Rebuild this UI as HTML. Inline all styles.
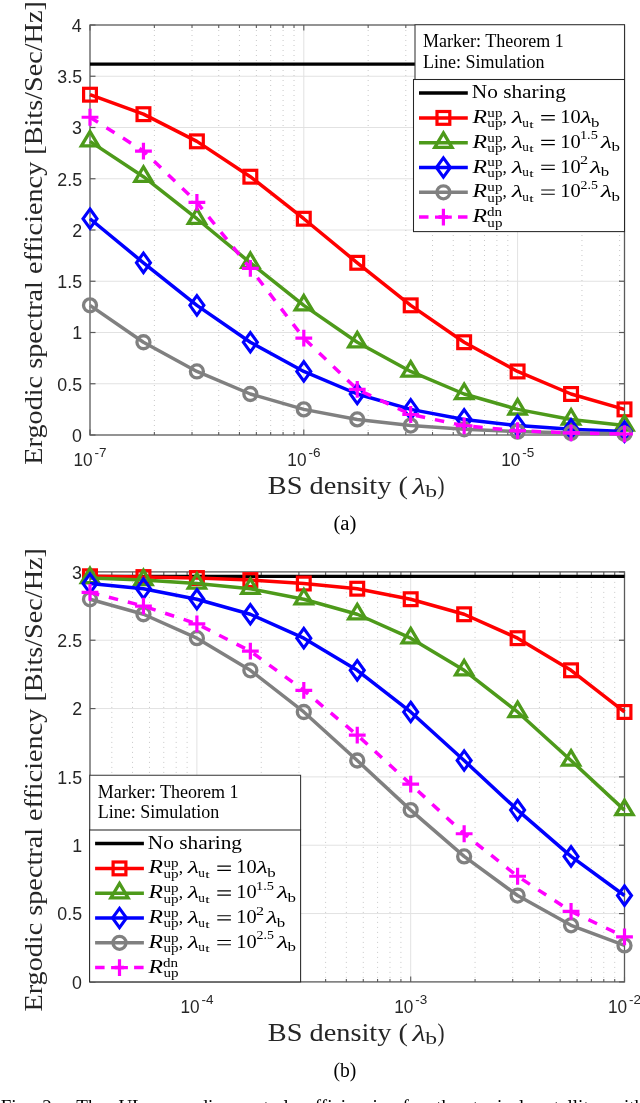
<!DOCTYPE html>
<html><head><meta charset="utf-8"><style>
html,body{margin:0;padding:0;background:#fff;width:640px;height:1103px;overflow:hidden}
svg{display:block;will-change:transform}
</style></head><body>
<svg width="640" height="1103" viewBox="0 0 640 1103">
<rect width="640" height="1103" fill="#fff"/>
<line x1="90.0" x2="624.5" y1="383.75" y2="383.75" stroke="#e2e2e2" stroke-width="1"/>
<line x1="90.0" x2="624.5" y1="332.50" y2="332.50" stroke="#e2e2e2" stroke-width="1"/>
<line x1="90.0" x2="624.5" y1="281.25" y2="281.25" stroke="#e2e2e2" stroke-width="1"/>
<line x1="90.0" x2="624.5" y1="230.00" y2="230.00" stroke="#e2e2e2" stroke-width="1"/>
<line x1="90.0" x2="624.5" y1="178.75" y2="178.75" stroke="#e2e2e2" stroke-width="1"/>
<line x1="90.0" x2="624.5" y1="127.50" y2="127.50" stroke="#e2e2e2" stroke-width="1"/>
<line x1="90.0" x2="624.5" y1="76.25" y2="76.25" stroke="#e2e2e2" stroke-width="1"/>
<line x1="154.36" x2="154.36" y1="25.0" y2="435.0" stroke="#c8c8c8" stroke-width="1" stroke-dasharray="1 4"/>
<line x1="192.01" x2="192.01" y1="25.0" y2="435.0" stroke="#c8c8c8" stroke-width="1" stroke-dasharray="1 4"/>
<line x1="218.72" x2="218.72" y1="25.0" y2="435.0" stroke="#c8c8c8" stroke-width="1" stroke-dasharray="1 4"/>
<line x1="239.44" x2="239.44" y1="25.0" y2="435.0" stroke="#c8c8c8" stroke-width="1" stroke-dasharray="1 4"/>
<line x1="256.37" x2="256.37" y1="25.0" y2="435.0" stroke="#c8c8c8" stroke-width="1" stroke-dasharray="1 4"/>
<line x1="270.68" x2="270.68" y1="25.0" y2="435.0" stroke="#c8c8c8" stroke-width="1" stroke-dasharray="1 4"/>
<line x1="283.08" x2="283.08" y1="25.0" y2="435.0" stroke="#c8c8c8" stroke-width="1" stroke-dasharray="1 4"/>
<line x1="294.02" x2="294.02" y1="25.0" y2="435.0" stroke="#c8c8c8" stroke-width="1" stroke-dasharray="1 4"/>
<line x1="303.80" x2="303.80" y1="25.0" y2="435.0" stroke="#e2e2e2" stroke-width="1"/>
<line x1="368.16" x2="368.16" y1="25.0" y2="435.0" stroke="#c8c8c8" stroke-width="1" stroke-dasharray="1 4"/>
<line x1="405.81" x2="405.81" y1="25.0" y2="435.0" stroke="#c8c8c8" stroke-width="1" stroke-dasharray="1 4"/>
<line x1="432.52" x2="432.52" y1="25.0" y2="435.0" stroke="#c8c8c8" stroke-width="1" stroke-dasharray="1 4"/>
<line x1="453.24" x2="453.24" y1="25.0" y2="435.0" stroke="#c8c8c8" stroke-width="1" stroke-dasharray="1 4"/>
<line x1="470.17" x2="470.17" y1="25.0" y2="435.0" stroke="#c8c8c8" stroke-width="1" stroke-dasharray="1 4"/>
<line x1="484.48" x2="484.48" y1="25.0" y2="435.0" stroke="#c8c8c8" stroke-width="1" stroke-dasharray="1 4"/>
<line x1="496.88" x2="496.88" y1="25.0" y2="435.0" stroke="#c8c8c8" stroke-width="1" stroke-dasharray="1 4"/>
<line x1="507.82" x2="507.82" y1="25.0" y2="435.0" stroke="#c8c8c8" stroke-width="1" stroke-dasharray="1 4"/>
<line x1="517.60" x2="517.60" y1="25.0" y2="435.0" stroke="#e2e2e2" stroke-width="1"/>
<line x1="581.96" x2="581.96" y1="25.0" y2="435.0" stroke="#c8c8c8" stroke-width="1" stroke-dasharray="1 4"/>
<line x1="619.61" x2="619.61" y1="25.0" y2="435.0" stroke="#c8c8c8" stroke-width="1" stroke-dasharray="1 4"/>
<rect x="90.0" y="25.0" width="534.5" height="410.0" fill="none" stroke="#5a5a5a" stroke-width="1.3"/>
<line x1="90.0" x2="95.5" y1="435.00" y2="435.00" stroke="#5a5a5a" stroke-width="1.2"/>
<line x1="624.5" x2="619.0" y1="435.00" y2="435.00" stroke="#5a5a5a" stroke-width="1.2"/>
<text x="72.00" y="441.90" style="font-family:'Liberation Sans',sans-serif;font-size:17.8px" fill="#262626">0</text>
<line x1="90.0" x2="95.5" y1="383.75" y2="383.75" stroke="#5a5a5a" stroke-width="1.2"/>
<line x1="624.5" x2="619.0" y1="383.75" y2="383.75" stroke="#5a5a5a" stroke-width="1.2"/>
<text x="57.30" y="390.65" style="font-family:'Liberation Sans',sans-serif;font-size:17.8px" fill="#262626">0.5</text>
<line x1="90.0" x2="95.5" y1="332.50" y2="332.50" stroke="#5a5a5a" stroke-width="1.2"/>
<line x1="624.5" x2="619.0" y1="332.50" y2="332.50" stroke="#5a5a5a" stroke-width="1.2"/>
<text x="72.20" y="339.40" style="font-family:'Liberation Sans',sans-serif;font-size:17.8px" fill="#262626">1</text>
<line x1="90.0" x2="95.5" y1="281.25" y2="281.25" stroke="#5a5a5a" stroke-width="1.2"/>
<line x1="624.5" x2="619.0" y1="281.25" y2="281.25" stroke="#5a5a5a" stroke-width="1.2"/>
<text x="57.30" y="288.15" style="font-family:'Liberation Sans',sans-serif;font-size:17.8px" fill="#262626">1.5</text>
<line x1="90.0" x2="95.5" y1="230.00" y2="230.00" stroke="#5a5a5a" stroke-width="1.2"/>
<line x1="624.5" x2="619.0" y1="230.00" y2="230.00" stroke="#5a5a5a" stroke-width="1.2"/>
<text x="72.20" y="236.90" style="font-family:'Liberation Sans',sans-serif;font-size:17.8px" fill="#262626">2</text>
<line x1="90.0" x2="95.5" y1="178.75" y2="178.75" stroke="#5a5a5a" stroke-width="1.2"/>
<line x1="624.5" x2="619.0" y1="178.75" y2="178.75" stroke="#5a5a5a" stroke-width="1.2"/>
<text x="57.30" y="185.65" style="font-family:'Liberation Sans',sans-serif;font-size:17.8px" fill="#262626">2.5</text>
<line x1="90.0" x2="95.5" y1="127.50" y2="127.50" stroke="#5a5a5a" stroke-width="1.2"/>
<line x1="624.5" x2="619.0" y1="127.50" y2="127.50" stroke="#5a5a5a" stroke-width="1.2"/>
<text x="72.10" y="134.40" style="font-family:'Liberation Sans',sans-serif;font-size:17.8px" fill="#262626">3</text>
<line x1="90.0" x2="95.5" y1="76.25" y2="76.25" stroke="#5a5a5a" stroke-width="1.2"/>
<line x1="624.5" x2="619.0" y1="76.25" y2="76.25" stroke="#5a5a5a" stroke-width="1.2"/>
<text x="57.30" y="83.15" style="font-family:'Liberation Sans',sans-serif;font-size:17.8px" fill="#262626">3.5</text>
<line x1="90.0" x2="95.5" y1="25.00" y2="25.00" stroke="#5a5a5a" stroke-width="1.2"/>
<line x1="624.5" x2="619.0" y1="25.00" y2="25.00" stroke="#5a5a5a" stroke-width="1.2"/>
<text x="71.80" y="31.90" style="font-family:'Liberation Sans',sans-serif;font-size:17.8px" fill="#262626">4</text>
<line x1="90.00" x2="90.00" y1="435.0" y2="429.5" stroke="#5a5a5a" stroke-width="1.1"/>
<line x1="90.00" x2="90.00" y1="25.0" y2="30.5" stroke="#5a5a5a" stroke-width="1.1"/>
<text x="73.53" y="465.60" style="font-family:'Liberation Sans',sans-serif;font-size:17.6px" fill="#262626" textLength="19.13" lengthAdjust="spacingAndGlyphs">10</text>
<text x="94.60" y="456.90" style="font-family:'Liberation Sans',sans-serif;font-size:13.5px" fill="#262626">-7</text>
<line x1="154.36" x2="154.36" y1="435.0" y2="432.0" stroke="#5a5a5a" stroke-width="1.1"/>
<line x1="154.36" x2="154.36" y1="25.0" y2="28.0" stroke="#5a5a5a" stroke-width="1.1"/>
<line x1="192.01" x2="192.01" y1="435.0" y2="432.0" stroke="#5a5a5a" stroke-width="1.1"/>
<line x1="192.01" x2="192.01" y1="25.0" y2="28.0" stroke="#5a5a5a" stroke-width="1.1"/>
<line x1="218.72" x2="218.72" y1="435.0" y2="432.0" stroke="#5a5a5a" stroke-width="1.1"/>
<line x1="218.72" x2="218.72" y1="25.0" y2="28.0" stroke="#5a5a5a" stroke-width="1.1"/>
<line x1="239.44" x2="239.44" y1="435.0" y2="432.0" stroke="#5a5a5a" stroke-width="1.1"/>
<line x1="239.44" x2="239.44" y1="25.0" y2="28.0" stroke="#5a5a5a" stroke-width="1.1"/>
<line x1="256.37" x2="256.37" y1="435.0" y2="432.0" stroke="#5a5a5a" stroke-width="1.1"/>
<line x1="256.37" x2="256.37" y1="25.0" y2="28.0" stroke="#5a5a5a" stroke-width="1.1"/>
<line x1="270.68" x2="270.68" y1="435.0" y2="432.0" stroke="#5a5a5a" stroke-width="1.1"/>
<line x1="270.68" x2="270.68" y1="25.0" y2="28.0" stroke="#5a5a5a" stroke-width="1.1"/>
<line x1="283.08" x2="283.08" y1="435.0" y2="432.0" stroke="#5a5a5a" stroke-width="1.1"/>
<line x1="283.08" x2="283.08" y1="25.0" y2="28.0" stroke="#5a5a5a" stroke-width="1.1"/>
<line x1="294.02" x2="294.02" y1="435.0" y2="432.0" stroke="#5a5a5a" stroke-width="1.1"/>
<line x1="294.02" x2="294.02" y1="25.0" y2="28.0" stroke="#5a5a5a" stroke-width="1.1"/>
<line x1="303.80" x2="303.80" y1="435.0" y2="429.5" stroke="#5a5a5a" stroke-width="1.1"/>
<line x1="303.80" x2="303.80" y1="25.0" y2="30.5" stroke="#5a5a5a" stroke-width="1.1"/>
<text x="287.33" y="465.60" style="font-family:'Liberation Sans',sans-serif;font-size:17.6px" fill="#262626" textLength="19.13" lengthAdjust="spacingAndGlyphs">10</text>
<text x="308.40" y="456.90" style="font-family:'Liberation Sans',sans-serif;font-size:13.5px" fill="#262626">-6</text>
<line x1="368.16" x2="368.16" y1="435.0" y2="432.0" stroke="#5a5a5a" stroke-width="1.1"/>
<line x1="368.16" x2="368.16" y1="25.0" y2="28.0" stroke="#5a5a5a" stroke-width="1.1"/>
<line x1="405.81" x2="405.81" y1="435.0" y2="432.0" stroke="#5a5a5a" stroke-width="1.1"/>
<line x1="405.81" x2="405.81" y1="25.0" y2="28.0" stroke="#5a5a5a" stroke-width="1.1"/>
<line x1="432.52" x2="432.52" y1="435.0" y2="432.0" stroke="#5a5a5a" stroke-width="1.1"/>
<line x1="432.52" x2="432.52" y1="25.0" y2="28.0" stroke="#5a5a5a" stroke-width="1.1"/>
<line x1="453.24" x2="453.24" y1="435.0" y2="432.0" stroke="#5a5a5a" stroke-width="1.1"/>
<line x1="453.24" x2="453.24" y1="25.0" y2="28.0" stroke="#5a5a5a" stroke-width="1.1"/>
<line x1="470.17" x2="470.17" y1="435.0" y2="432.0" stroke="#5a5a5a" stroke-width="1.1"/>
<line x1="470.17" x2="470.17" y1="25.0" y2="28.0" stroke="#5a5a5a" stroke-width="1.1"/>
<line x1="484.48" x2="484.48" y1="435.0" y2="432.0" stroke="#5a5a5a" stroke-width="1.1"/>
<line x1="484.48" x2="484.48" y1="25.0" y2="28.0" stroke="#5a5a5a" stroke-width="1.1"/>
<line x1="496.88" x2="496.88" y1="435.0" y2="432.0" stroke="#5a5a5a" stroke-width="1.1"/>
<line x1="496.88" x2="496.88" y1="25.0" y2="28.0" stroke="#5a5a5a" stroke-width="1.1"/>
<line x1="507.82" x2="507.82" y1="435.0" y2="432.0" stroke="#5a5a5a" stroke-width="1.1"/>
<line x1="507.82" x2="507.82" y1="25.0" y2="28.0" stroke="#5a5a5a" stroke-width="1.1"/>
<line x1="517.60" x2="517.60" y1="435.0" y2="429.5" stroke="#5a5a5a" stroke-width="1.1"/>
<line x1="517.60" x2="517.60" y1="25.0" y2="30.5" stroke="#5a5a5a" stroke-width="1.1"/>
<text x="501.13" y="465.60" style="font-family:'Liberation Sans',sans-serif;font-size:17.6px" fill="#262626" textLength="19.13" lengthAdjust="spacingAndGlyphs">10</text>
<text x="522.20" y="456.90" style="font-family:'Liberation Sans',sans-serif;font-size:13.5px" fill="#262626">-5</text>
<line x1="581.96" x2="581.96" y1="435.0" y2="432.0" stroke="#5a5a5a" stroke-width="1.1"/>
<line x1="581.96" x2="581.96" y1="25.0" y2="28.0" stroke="#5a5a5a" stroke-width="1.1"/>
<line x1="619.61" x2="619.61" y1="435.0" y2="432.0" stroke="#5a5a5a" stroke-width="1.1"/>
<line x1="619.61" x2="619.61" y1="25.0" y2="28.0" stroke="#5a5a5a" stroke-width="1.1"/>
<line x1="90.0" x2="624.5" y1="64.16" y2="64.16" stroke="#000" stroke-width="3.2"/>
<polyline points="90.00,94.70 143.45,114.18 196.90,141.34 250.35,176.70 303.80,218.73 357.25,262.80 410.70,305.34 464.15,342.24 517.60,371.45 571.05,394.00 624.50,409.38" fill="none" stroke="#ff0000" stroke-width="3.5" stroke-linejoin="round"/>
<rect x="83.60" y="88.30" width="12.80" height="12.80" fill="none" stroke="#ff0000" stroke-width="3.2"/>
<rect x="137.05" y="107.78" width="12.80" height="12.80" fill="none" stroke="#ff0000" stroke-width="3.2"/>
<rect x="190.50" y="134.94" width="12.80" height="12.80" fill="none" stroke="#ff0000" stroke-width="3.2"/>
<rect x="243.95" y="170.30" width="12.80" height="12.80" fill="none" stroke="#ff0000" stroke-width="3.2"/>
<rect x="297.40" y="212.33" width="12.80" height="12.80" fill="none" stroke="#ff0000" stroke-width="3.2"/>
<rect x="350.85" y="256.40" width="12.80" height="12.80" fill="none" stroke="#ff0000" stroke-width="3.2"/>
<rect x="404.30" y="298.94" width="12.80" height="12.80" fill="none" stroke="#ff0000" stroke-width="3.2"/>
<rect x="457.75" y="335.84" width="12.80" height="12.80" fill="none" stroke="#ff0000" stroke-width="3.2"/>
<rect x="511.20" y="365.05" width="12.80" height="12.80" fill="none" stroke="#ff0000" stroke-width="3.2"/>
<rect x="564.65" y="387.60" width="12.80" height="12.80" fill="none" stroke="#ff0000" stroke-width="3.2"/>
<rect x="618.10" y="402.98" width="12.80" height="12.80" fill="none" stroke="#ff0000" stroke-width="3.2"/>
<polyline points="90.00,141.34 143.45,176.70 196.90,218.73 250.35,262.80 303.80,305.34 357.25,342.24 410.70,371.45 464.15,394.00 517.60,409.38 571.05,419.42 624.50,425.57" fill="none" stroke="#4d9a1a" stroke-width="3.5" stroke-linejoin="round"/>
<path d="M90.00,131.54 L98.60,145.94 L81.40,145.94 Z" fill="none" stroke="#4d9a1a" stroke-width="3.3" stroke-linejoin="miter"/>
<path d="M143.45,166.90 L152.05,181.30 L134.85,181.30 Z" fill="none" stroke="#4d9a1a" stroke-width="3.3" stroke-linejoin="miter"/>
<path d="M196.90,208.93 L205.50,223.33 L188.30,223.33 Z" fill="none" stroke="#4d9a1a" stroke-width="3.3" stroke-linejoin="miter"/>
<path d="M250.35,253.00 L258.95,267.40 L241.75,267.40 Z" fill="none" stroke="#4d9a1a" stroke-width="3.3" stroke-linejoin="miter"/>
<path d="M303.80,295.54 L312.40,309.94 L295.20,309.94 Z" fill="none" stroke="#4d9a1a" stroke-width="3.3" stroke-linejoin="miter"/>
<path d="M357.25,332.44 L365.85,346.84 L348.65,346.84 Z" fill="none" stroke="#4d9a1a" stroke-width="3.3" stroke-linejoin="miter"/>
<path d="M410.70,361.65 L419.30,376.05 L402.10,376.05 Z" fill="none" stroke="#4d9a1a" stroke-width="3.3" stroke-linejoin="miter"/>
<path d="M464.15,384.20 L472.75,398.60 L455.55,398.60 Z" fill="none" stroke="#4d9a1a" stroke-width="3.3" stroke-linejoin="miter"/>
<path d="M517.60,399.57 L526.20,413.98 L509.00,413.98 Z" fill="none" stroke="#4d9a1a" stroke-width="3.3" stroke-linejoin="miter"/>
<path d="M571.05,409.62 L579.65,424.02 L562.45,424.02 Z" fill="none" stroke="#4d9a1a" stroke-width="3.3" stroke-linejoin="miter"/>
<path d="M624.50,415.77 L633.10,430.17 L615.90,430.17 Z" fill="none" stroke="#4d9a1a" stroke-width="3.3" stroke-linejoin="miter"/>
<polyline points="90.00,218.73 143.45,262.80 196.90,305.34 250.35,342.24 303.80,371.45 357.25,394.00 410.70,409.38 464.15,419.42 517.60,425.57 571.05,429.36 624.50,431.62" fill="none" stroke="#0000ff" stroke-width="3.5" stroke-linejoin="round"/>
<path d="M90.00,209.03 L97.00,218.73 L90.00,228.43 L83.00,218.73 Z" fill="none" stroke="#0000ff" stroke-width="3.1" stroke-linejoin="miter"/>
<path d="M143.45,253.10 L150.45,262.80 L143.45,272.50 L136.45,262.80 Z" fill="none" stroke="#0000ff" stroke-width="3.1" stroke-linejoin="miter"/>
<path d="M196.90,295.64 L203.90,305.34 L196.90,315.04 L189.90,305.34 Z" fill="none" stroke="#0000ff" stroke-width="3.1" stroke-linejoin="miter"/>
<path d="M250.35,332.54 L257.35,342.24 L250.35,351.94 L243.35,342.24 Z" fill="none" stroke="#0000ff" stroke-width="3.1" stroke-linejoin="miter"/>
<path d="M303.80,361.75 L310.80,371.45 L303.80,381.15 L296.80,371.45 Z" fill="none" stroke="#0000ff" stroke-width="3.1" stroke-linejoin="miter"/>
<path d="M357.25,384.30 L364.25,394.00 L357.25,403.70 L350.25,394.00 Z" fill="none" stroke="#0000ff" stroke-width="3.1" stroke-linejoin="miter"/>
<path d="M410.70,399.68 L417.70,409.38 L410.70,419.07 L403.70,409.38 Z" fill="none" stroke="#0000ff" stroke-width="3.1" stroke-linejoin="miter"/>
<path d="M464.15,409.72 L471.15,419.42 L464.15,429.12 L457.15,419.42 Z" fill="none" stroke="#0000ff" stroke-width="3.1" stroke-linejoin="miter"/>
<path d="M517.60,415.87 L524.60,425.57 L517.60,435.27 L510.60,425.57 Z" fill="none" stroke="#0000ff" stroke-width="3.1" stroke-linejoin="miter"/>
<path d="M571.05,419.66 L578.05,429.36 L571.05,439.06 L564.05,429.36 Z" fill="none" stroke="#0000ff" stroke-width="3.1" stroke-linejoin="miter"/>
<path d="M624.50,421.92 L631.50,431.62 L624.50,441.32 L617.50,431.62 Z" fill="none" stroke="#0000ff" stroke-width="3.1" stroke-linejoin="miter"/>
<polyline points="90.00,305.34 143.45,342.24 196.90,371.45 250.35,394.00 303.80,409.38 357.25,419.42 410.70,425.57 464.15,429.36 517.60,431.62 571.05,432.95 624.50,433.77" fill="none" stroke="#808080" stroke-width="3.5" stroke-linejoin="round"/>
<circle cx="90.00" cy="305.34" r="6.5" fill="none" stroke="#808080" stroke-width="3.3"/>
<circle cx="143.45" cy="342.24" r="6.5" fill="none" stroke="#808080" stroke-width="3.3"/>
<circle cx="196.90" cy="371.45" r="6.5" fill="none" stroke="#808080" stroke-width="3.3"/>
<circle cx="250.35" cy="394.00" r="6.5" fill="none" stroke="#808080" stroke-width="3.3"/>
<circle cx="303.80" cy="409.38" r="6.5" fill="none" stroke="#808080" stroke-width="3.3"/>
<circle cx="357.25" cy="419.42" r="6.5" fill="none" stroke="#808080" stroke-width="3.3"/>
<circle cx="410.70" cy="425.57" r="6.5" fill="none" stroke="#808080" stroke-width="3.3"/>
<circle cx="464.15" cy="429.36" r="6.5" fill="none" stroke="#808080" stroke-width="3.3"/>
<circle cx="517.60" cy="431.62" r="6.5" fill="none" stroke="#808080" stroke-width="3.3"/>
<circle cx="571.05" cy="432.95" r="6.5" fill="none" stroke="#808080" stroke-width="3.3"/>
<circle cx="624.50" cy="433.77" r="6.5" fill="none" stroke="#808080" stroke-width="3.3"/>
<polyline points="90.00,117.25 143.45,151.07 196.90,202.32 250.35,268.44 303.80,338.14 357.25,389.39 410.70,414.50 464.15,425.77 517.60,430.69 571.05,432.95 624.50,433.98" fill="none" stroke="#ff00ff" stroke-width="3.5" stroke-linejoin="round" stroke-dasharray="9.5 10"/>
<path d="M81.60,117.25 H98.40 M90.00,108.85 V125.65" stroke="#ff00ff" stroke-width="3.2" fill="none"/>
<path d="M135.05,151.07 H151.85 M143.45,142.67 V159.47" stroke="#ff00ff" stroke-width="3.2" fill="none"/>
<path d="M188.50,202.32 H205.30 M196.90,193.92 V210.72" stroke="#ff00ff" stroke-width="3.2" fill="none"/>
<path d="M241.95,268.44 H258.75 M250.35,260.04 V276.84" stroke="#ff00ff" stroke-width="3.2" fill="none"/>
<path d="M295.40,338.14 H312.20 M303.80,329.74 V346.54" stroke="#ff00ff" stroke-width="3.2" fill="none"/>
<path d="M348.85,389.39 H365.65 M357.25,380.99 V397.79" stroke="#ff00ff" stroke-width="3.2" fill="none"/>
<path d="M402.30,414.50 H419.10 M410.70,406.10 V422.90" stroke="#ff00ff" stroke-width="3.2" fill="none"/>
<path d="M455.75,425.77 H472.55 M464.15,417.38 V434.17" stroke="#ff00ff" stroke-width="3.2" fill="none"/>
<path d="M509.20,430.69 H526.00 M517.60,422.30 V439.09" stroke="#ff00ff" stroke-width="3.2" fill="none"/>
<path d="M562.65,432.95 H579.45 M571.05,424.55 V441.35" stroke="#ff00ff" stroke-width="3.2" fill="none"/>
<path d="M616.10,433.98 H632.90 M624.50,425.58 V442.38" stroke="#ff00ff" stroke-width="3.2" fill="none"/>
<path d="M415.00,79.50 V24.70 H624.50 V79.50" fill="#fff" stroke="#333" stroke-width="1.05"/>
<text x="423.10" y="47.10" style="font-family:'Liberation Serif',serif;font-size:18.0px" fill="#000">Marker: Theorem 1</text>
<text x="423.10" y="67.70" style="font-family:'Liberation Serif',serif;font-size:18.0px" fill="#000">Line: Simulation</text>
<rect x="413.50" y="79.50" width="211.00" height="152.10" fill="#fff" stroke="#262626" stroke-width="1.05"/>
<line x1="419.00" x2="467.80" y1="93.10" y2="93.10" stroke="#000" stroke-width="3.5"/>
<text x="471.72" y="98.10" style="font-family:'Liberation Serif',serif;font-size:18.5px" fill="#000" textLength="94.23" lengthAdjust="spacingAndGlyphs">No sharing</text>
<line x1="419.00" x2="467.80" y1="117.90" y2="117.90" stroke="#ff0000" stroke-width="3.5"/>
<rect x="437.00" y="111.50" width="12.80" height="12.80" fill="none" stroke="#ff0000" stroke-width="3.2"/>
<text x="472.42" y="122.90" style="font-family:'Liberation Serif',serif;font-size:19.2px;font-style:italic" fill="#000" textLength="14.48" lengthAdjust="spacingAndGlyphs">R</text>
<text x="487.36" y="116.80" style="font-family:'Liberation Serif',serif;font-size:12.6px" fill="#000" textLength="15.04" lengthAdjust="spacingAndGlyphs">up</text>
<text x="487.36" y="127.30" style="font-family:'Liberation Serif',serif;font-size:12.6px" fill="#000" textLength="15.04" lengthAdjust="spacingAndGlyphs">up</text>
<text x="502.60" y="122.90" style="font-family:'Liberation Serif',serif;font-size:17.5px" fill="#000">,</text>
<text x="511.70" y="122.90" style="font-family:'Liberation Serif',serif;font-size:17.5px;font-style:italic" fill="#000" textLength="11.32" lengthAdjust="spacingAndGlyphs">λ</text>
<text x="522.29" y="126.50" style="font-family:'Liberation Serif',serif;font-size:12.6px" fill="#000" textLength="6.62" lengthAdjust="spacingAndGlyphs">u</text>
<text x="529.15" y="127.50" style="font-family:'Liberation Serif',serif;font-size:10.5px" fill="#000" textLength="4.48" lengthAdjust="spacingAndGlyphs">t</text>
<path d="M541.20,115.60h13.6M541.20,119.80h13.6" stroke="#000" stroke-width="1.15"/>
<text x="560.28" y="122.90" style="font-family:'Liberation Serif',serif;font-size:19.0px" fill="#000" textLength="20.37" lengthAdjust="spacingAndGlyphs">10</text>
<text x="580.50" y="122.90" style="font-family:'Liberation Serif',serif;font-size:17.5px;font-style:italic" fill="#000" textLength="11.32" lengthAdjust="spacingAndGlyphs">λ</text>
<text x="591.10" y="126.50" style="font-family:'Liberation Serif',serif;font-size:12.6px" fill="#000" textLength="8.47" lengthAdjust="spacingAndGlyphs">b</text>
<line x1="419.00" x2="467.80" y1="142.70" y2="142.70" stroke="#4d9a1a" stroke-width="3.5"/>
<path d="M443.40,132.90 L452.00,147.30 L434.80,147.30 Z" fill="none" stroke="#4d9a1a" stroke-width="3.3" stroke-linejoin="miter"/>
<text x="472.42" y="147.70" style="font-family:'Liberation Serif',serif;font-size:19.2px;font-style:italic" fill="#000" textLength="14.48" lengthAdjust="spacingAndGlyphs">R</text>
<text x="487.36" y="141.60" style="font-family:'Liberation Serif',serif;font-size:12.6px" fill="#000" textLength="15.04" lengthAdjust="spacingAndGlyphs">up</text>
<text x="487.36" y="152.10" style="font-family:'Liberation Serif',serif;font-size:12.6px" fill="#000" textLength="15.04" lengthAdjust="spacingAndGlyphs">up</text>
<text x="502.60" y="147.70" style="font-family:'Liberation Serif',serif;font-size:17.5px" fill="#000">,</text>
<text x="511.70" y="147.70" style="font-family:'Liberation Serif',serif;font-size:17.5px;font-style:italic" fill="#000" textLength="11.32" lengthAdjust="spacingAndGlyphs">λ</text>
<text x="522.29" y="151.30" style="font-family:'Liberation Serif',serif;font-size:12.6px" fill="#000" textLength="6.62" lengthAdjust="spacingAndGlyphs">u</text>
<text x="529.15" y="152.30" style="font-family:'Liberation Serif',serif;font-size:10.5px" fill="#000" textLength="4.48" lengthAdjust="spacingAndGlyphs">t</text>
<path d="M541.20,140.40h13.6M541.20,144.60h13.6" stroke="#000" stroke-width="1.15"/>
<text x="560.28" y="147.70" style="font-family:'Liberation Serif',serif;font-size:19.0px" fill="#000" textLength="20.37" lengthAdjust="spacingAndGlyphs">10</text>
<text x="579.95" y="139.20" style="font-family:'Liberation Serif',serif;font-size:12.6px" fill="#000" textLength="17.97" lengthAdjust="spacingAndGlyphs">1.5</text>
<text x="600.80" y="147.70" style="font-family:'Liberation Serif',serif;font-size:17.5px;font-style:italic" fill="#000" textLength="11.32" lengthAdjust="spacingAndGlyphs">λ</text>
<text x="611.40" y="151.30" style="font-family:'Liberation Serif',serif;font-size:12.6px" fill="#000" textLength="8.47" lengthAdjust="spacingAndGlyphs">b</text>
<line x1="419.00" x2="467.80" y1="167.50" y2="167.50" stroke="#0000ff" stroke-width="3.5"/>
<path d="M443.40,157.80 L450.40,167.50 L443.40,177.20 L436.40,167.50 Z" fill="none" stroke="#0000ff" stroke-width="3.1" stroke-linejoin="miter"/>
<text x="472.42" y="172.50" style="font-family:'Liberation Serif',serif;font-size:19.2px;font-style:italic" fill="#000" textLength="14.48" lengthAdjust="spacingAndGlyphs">R</text>
<text x="487.36" y="166.40" style="font-family:'Liberation Serif',serif;font-size:12.6px" fill="#000" textLength="15.04" lengthAdjust="spacingAndGlyphs">up</text>
<text x="487.36" y="176.90" style="font-family:'Liberation Serif',serif;font-size:12.6px" fill="#000" textLength="15.04" lengthAdjust="spacingAndGlyphs">up</text>
<text x="502.60" y="172.50" style="font-family:'Liberation Serif',serif;font-size:17.5px" fill="#000">,</text>
<text x="511.70" y="172.50" style="font-family:'Liberation Serif',serif;font-size:17.5px;font-style:italic" fill="#000" textLength="11.32" lengthAdjust="spacingAndGlyphs">λ</text>
<text x="522.29" y="176.10" style="font-family:'Liberation Serif',serif;font-size:12.6px" fill="#000" textLength="6.62" lengthAdjust="spacingAndGlyphs">u</text>
<text x="529.15" y="177.10" style="font-family:'Liberation Serif',serif;font-size:10.5px" fill="#000" textLength="4.48" lengthAdjust="spacingAndGlyphs">t</text>
<path d="M541.20,165.20h13.6M541.20,169.40h13.6" stroke="#000" stroke-width="1.15"/>
<text x="560.28" y="172.50" style="font-family:'Liberation Serif',serif;font-size:19.0px" fill="#000" textLength="20.37" lengthAdjust="spacingAndGlyphs">10</text>
<text x="579.93" y="164.00" style="font-family:'Liberation Serif',serif;font-size:12.6px" fill="#000" textLength="8.06" lengthAdjust="spacingAndGlyphs">2</text>
<text x="590.10" y="172.50" style="font-family:'Liberation Serif',serif;font-size:17.5px;font-style:italic" fill="#000" textLength="11.32" lengthAdjust="spacingAndGlyphs">λ</text>
<text x="600.70" y="176.10" style="font-family:'Liberation Serif',serif;font-size:12.6px" fill="#000" textLength="8.47" lengthAdjust="spacingAndGlyphs">b</text>
<line x1="419.00" x2="467.80" y1="192.30" y2="192.30" stroke="#808080" stroke-width="3.5"/>
<circle cx="443.40" cy="192.30" r="6.5" fill="none" stroke="#808080" stroke-width="3.3"/>
<text x="472.42" y="197.30" style="font-family:'Liberation Serif',serif;font-size:19.2px;font-style:italic" fill="#000" textLength="14.48" lengthAdjust="spacingAndGlyphs">R</text>
<text x="487.36" y="191.20" style="font-family:'Liberation Serif',serif;font-size:12.6px" fill="#000" textLength="15.04" lengthAdjust="spacingAndGlyphs">up</text>
<text x="487.36" y="201.70" style="font-family:'Liberation Serif',serif;font-size:12.6px" fill="#000" textLength="15.04" lengthAdjust="spacingAndGlyphs">up</text>
<text x="502.60" y="197.30" style="font-family:'Liberation Serif',serif;font-size:17.5px" fill="#000">,</text>
<text x="511.70" y="197.30" style="font-family:'Liberation Serif',serif;font-size:17.5px;font-style:italic" fill="#000" textLength="11.32" lengthAdjust="spacingAndGlyphs">λ</text>
<text x="522.29" y="200.90" style="font-family:'Liberation Serif',serif;font-size:12.6px" fill="#000" textLength="6.62" lengthAdjust="spacingAndGlyphs">u</text>
<text x="529.15" y="201.90" style="font-family:'Liberation Serif',serif;font-size:10.5px" fill="#000" textLength="4.48" lengthAdjust="spacingAndGlyphs">t</text>
<path d="M541.20,190.00h13.6M541.20,194.20h13.6" stroke="#000" stroke-width="1.15"/>
<text x="560.28" y="197.30" style="font-family:'Liberation Serif',serif;font-size:19.0px" fill="#000" textLength="20.37" lengthAdjust="spacingAndGlyphs">10</text>
<text x="580.54" y="188.80" style="font-family:'Liberation Serif',serif;font-size:12.6px" fill="#000" textLength="17.36" lengthAdjust="spacingAndGlyphs">2.5</text>
<text x="600.80" y="197.30" style="font-family:'Liberation Serif',serif;font-size:17.5px;font-style:italic" fill="#000" textLength="11.32" lengthAdjust="spacingAndGlyphs">λ</text>
<text x="611.40" y="200.90" style="font-family:'Liberation Serif',serif;font-size:12.6px" fill="#000" textLength="8.47" lengthAdjust="spacingAndGlyphs">b</text>
<line x1="419.00" x2="467.80" y1="217.10" y2="217.10" stroke="#ff00ff" stroke-width="3.5" stroke-dasharray="9.5 10"/>
<path d="M435.00,217.10 H451.80 M443.40,208.70 V225.50" stroke="#ff00ff" stroke-width="3.2" fill="none"/>
<text x="472.42" y="222.10" style="font-family:'Liberation Serif',serif;font-size:19.2px;font-style:italic" fill="#000" textLength="14.48" lengthAdjust="spacingAndGlyphs">R</text>
<text x="487.00" y="216.00" style="font-family:'Liberation Serif',serif;font-size:12.6px" fill="#000" textLength="15.04" lengthAdjust="spacingAndGlyphs">dn</text>
<text x="487.36" y="226.50" style="font-family:'Liberation Serif',serif;font-size:12.6px" fill="#000" textLength="15.04" lengthAdjust="spacingAndGlyphs">up</text>
<line x1="90.0" x2="624.5" y1="913.57" y2="913.57" stroke="#e2e2e2" stroke-width="1"/>
<line x1="90.0" x2="624.5" y1="845.23" y2="845.23" stroke="#e2e2e2" stroke-width="1"/>
<line x1="90.0" x2="624.5" y1="776.90" y2="776.90" stroke="#e2e2e2" stroke-width="1"/>
<line x1="90.0" x2="624.5" y1="708.57" y2="708.57" stroke="#e2e2e2" stroke-width="1"/>
<line x1="90.0" x2="624.5" y1="640.23" y2="640.23" stroke="#e2e2e2" stroke-width="1"/>
<line x1="111.82" x2="111.82" y1="571.9" y2="981.9" stroke="#c8c8c8" stroke-width="1" stroke-dasharray="1 4"/>
<line x1="132.54" x2="132.54" y1="571.9" y2="981.9" stroke="#c8c8c8" stroke-width="1" stroke-dasharray="1 4"/>
<line x1="149.47" x2="149.47" y1="571.9" y2="981.9" stroke="#c8c8c8" stroke-width="1" stroke-dasharray="1 4"/>
<line x1="163.78" x2="163.78" y1="571.9" y2="981.9" stroke="#c8c8c8" stroke-width="1" stroke-dasharray="1 4"/>
<line x1="176.18" x2="176.18" y1="571.9" y2="981.9" stroke="#c8c8c8" stroke-width="1" stroke-dasharray="1 4"/>
<line x1="187.12" x2="187.12" y1="571.9" y2="981.9" stroke="#c8c8c8" stroke-width="1" stroke-dasharray="1 4"/>
<line x1="196.90" x2="196.90" y1="571.9" y2="981.9" stroke="#e2e2e2" stroke-width="1"/>
<line x1="261.26" x2="261.26" y1="571.9" y2="981.9" stroke="#c8c8c8" stroke-width="1" stroke-dasharray="1 4"/>
<line x1="298.91" x2="298.91" y1="571.9" y2="981.9" stroke="#c8c8c8" stroke-width="1" stroke-dasharray="1 4"/>
<line x1="325.62" x2="325.62" y1="571.9" y2="981.9" stroke="#c8c8c8" stroke-width="1" stroke-dasharray="1 4"/>
<line x1="346.34" x2="346.34" y1="571.9" y2="981.9" stroke="#c8c8c8" stroke-width="1" stroke-dasharray="1 4"/>
<line x1="363.27" x2="363.27" y1="571.9" y2="981.9" stroke="#c8c8c8" stroke-width="1" stroke-dasharray="1 4"/>
<line x1="377.58" x2="377.58" y1="571.9" y2="981.9" stroke="#c8c8c8" stroke-width="1" stroke-dasharray="1 4"/>
<line x1="389.98" x2="389.98" y1="571.9" y2="981.9" stroke="#c8c8c8" stroke-width="1" stroke-dasharray="1 4"/>
<line x1="400.92" x2="400.92" y1="571.9" y2="981.9" stroke="#c8c8c8" stroke-width="1" stroke-dasharray="1 4"/>
<line x1="410.70" x2="410.70" y1="571.9" y2="981.9" stroke="#e2e2e2" stroke-width="1"/>
<line x1="475.06" x2="475.06" y1="571.9" y2="981.9" stroke="#c8c8c8" stroke-width="1" stroke-dasharray="1 4"/>
<line x1="512.71" x2="512.71" y1="571.9" y2="981.9" stroke="#c8c8c8" stroke-width="1" stroke-dasharray="1 4"/>
<line x1="539.42" x2="539.42" y1="571.9" y2="981.9" stroke="#c8c8c8" stroke-width="1" stroke-dasharray="1 4"/>
<line x1="560.14" x2="560.14" y1="571.9" y2="981.9" stroke="#c8c8c8" stroke-width="1" stroke-dasharray="1 4"/>
<line x1="577.07" x2="577.07" y1="571.9" y2="981.9" stroke="#c8c8c8" stroke-width="1" stroke-dasharray="1 4"/>
<line x1="591.38" x2="591.38" y1="571.9" y2="981.9" stroke="#c8c8c8" stroke-width="1" stroke-dasharray="1 4"/>
<line x1="603.78" x2="603.78" y1="571.9" y2="981.9" stroke="#c8c8c8" stroke-width="1" stroke-dasharray="1 4"/>
<line x1="614.72" x2="614.72" y1="571.9" y2="981.9" stroke="#c8c8c8" stroke-width="1" stroke-dasharray="1 4"/>
<rect x="90.0" y="571.9" width="534.5" height="410.0" fill="none" stroke="#5a5a5a" stroke-width="1.3"/>
<line x1="90.0" x2="95.5" y1="981.90" y2="981.90" stroke="#5a5a5a" stroke-width="1.2"/>
<line x1="624.5" x2="619.0" y1="981.90" y2="981.90" stroke="#5a5a5a" stroke-width="1.2"/>
<text x="72.00" y="988.80" style="font-family:'Liberation Sans',sans-serif;font-size:17.8px" fill="#262626">0</text>
<line x1="90.0" x2="95.5" y1="913.57" y2="913.57" stroke="#5a5a5a" stroke-width="1.2"/>
<line x1="624.5" x2="619.0" y1="913.57" y2="913.57" stroke="#5a5a5a" stroke-width="1.2"/>
<text x="57.30" y="920.47" style="font-family:'Liberation Sans',sans-serif;font-size:17.8px" fill="#262626">0.5</text>
<line x1="90.0" x2="95.5" y1="845.23" y2="845.23" stroke="#5a5a5a" stroke-width="1.2"/>
<line x1="624.5" x2="619.0" y1="845.23" y2="845.23" stroke="#5a5a5a" stroke-width="1.2"/>
<text x="72.20" y="852.13" style="font-family:'Liberation Sans',sans-serif;font-size:17.8px" fill="#262626">1</text>
<line x1="90.0" x2="95.5" y1="776.90" y2="776.90" stroke="#5a5a5a" stroke-width="1.2"/>
<line x1="624.5" x2="619.0" y1="776.90" y2="776.90" stroke="#5a5a5a" stroke-width="1.2"/>
<text x="57.30" y="783.80" style="font-family:'Liberation Sans',sans-serif;font-size:17.8px" fill="#262626">1.5</text>
<line x1="90.0" x2="95.5" y1="708.57" y2="708.57" stroke="#5a5a5a" stroke-width="1.2"/>
<line x1="624.5" x2="619.0" y1="708.57" y2="708.57" stroke="#5a5a5a" stroke-width="1.2"/>
<text x="72.20" y="715.47" style="font-family:'Liberation Sans',sans-serif;font-size:17.8px" fill="#262626">2</text>
<line x1="90.0" x2="95.5" y1="640.23" y2="640.23" stroke="#5a5a5a" stroke-width="1.2"/>
<line x1="624.5" x2="619.0" y1="640.23" y2="640.23" stroke="#5a5a5a" stroke-width="1.2"/>
<text x="57.30" y="647.13" style="font-family:'Liberation Sans',sans-serif;font-size:17.8px" fill="#262626">2.5</text>
<line x1="90.0" x2="95.5" y1="571.90" y2="571.90" stroke="#5a5a5a" stroke-width="1.2"/>
<line x1="624.5" x2="619.0" y1="571.90" y2="571.90" stroke="#5a5a5a" stroke-width="1.2"/>
<text x="72.10" y="578.80" style="font-family:'Liberation Sans',sans-serif;font-size:17.8px" fill="#262626">3</text>
<line x1="111.82" x2="111.82" y1="981.9" y2="978.9" stroke="#5a5a5a" stroke-width="1.1"/>
<line x1="111.82" x2="111.82" y1="571.9" y2="574.9" stroke="#5a5a5a" stroke-width="1.1"/>
<line x1="132.54" x2="132.54" y1="981.9" y2="978.9" stroke="#5a5a5a" stroke-width="1.1"/>
<line x1="132.54" x2="132.54" y1="571.9" y2="574.9" stroke="#5a5a5a" stroke-width="1.1"/>
<line x1="149.47" x2="149.47" y1="981.9" y2="978.9" stroke="#5a5a5a" stroke-width="1.1"/>
<line x1="149.47" x2="149.47" y1="571.9" y2="574.9" stroke="#5a5a5a" stroke-width="1.1"/>
<line x1="163.78" x2="163.78" y1="981.9" y2="978.9" stroke="#5a5a5a" stroke-width="1.1"/>
<line x1="163.78" x2="163.78" y1="571.9" y2="574.9" stroke="#5a5a5a" stroke-width="1.1"/>
<line x1="176.18" x2="176.18" y1="981.9" y2="978.9" stroke="#5a5a5a" stroke-width="1.1"/>
<line x1="176.18" x2="176.18" y1="571.9" y2="574.9" stroke="#5a5a5a" stroke-width="1.1"/>
<line x1="187.12" x2="187.12" y1="981.9" y2="978.9" stroke="#5a5a5a" stroke-width="1.1"/>
<line x1="187.12" x2="187.12" y1="571.9" y2="574.9" stroke="#5a5a5a" stroke-width="1.1"/>
<line x1="196.90" x2="196.90" y1="981.9" y2="976.4" stroke="#5a5a5a" stroke-width="1.1"/>
<line x1="196.90" x2="196.90" y1="571.9" y2="577.4" stroke="#5a5a5a" stroke-width="1.1"/>
<text x="180.43" y="1012.50" style="font-family:'Liberation Sans',sans-serif;font-size:17.6px" fill="#262626" textLength="19.13" lengthAdjust="spacingAndGlyphs">10</text>
<text x="201.50" y="1003.80" style="font-family:'Liberation Sans',sans-serif;font-size:13.5px" fill="#262626">-4</text>
<line x1="261.26" x2="261.26" y1="981.9" y2="978.9" stroke="#5a5a5a" stroke-width="1.1"/>
<line x1="261.26" x2="261.26" y1="571.9" y2="574.9" stroke="#5a5a5a" stroke-width="1.1"/>
<line x1="298.91" x2="298.91" y1="981.9" y2="978.9" stroke="#5a5a5a" stroke-width="1.1"/>
<line x1="298.91" x2="298.91" y1="571.9" y2="574.9" stroke="#5a5a5a" stroke-width="1.1"/>
<line x1="325.62" x2="325.62" y1="981.9" y2="978.9" stroke="#5a5a5a" stroke-width="1.1"/>
<line x1="325.62" x2="325.62" y1="571.9" y2="574.9" stroke="#5a5a5a" stroke-width="1.1"/>
<line x1="346.34" x2="346.34" y1="981.9" y2="978.9" stroke="#5a5a5a" stroke-width="1.1"/>
<line x1="346.34" x2="346.34" y1="571.9" y2="574.9" stroke="#5a5a5a" stroke-width="1.1"/>
<line x1="363.27" x2="363.27" y1="981.9" y2="978.9" stroke="#5a5a5a" stroke-width="1.1"/>
<line x1="363.27" x2="363.27" y1="571.9" y2="574.9" stroke="#5a5a5a" stroke-width="1.1"/>
<line x1="377.58" x2="377.58" y1="981.9" y2="978.9" stroke="#5a5a5a" stroke-width="1.1"/>
<line x1="377.58" x2="377.58" y1="571.9" y2="574.9" stroke="#5a5a5a" stroke-width="1.1"/>
<line x1="389.98" x2="389.98" y1="981.9" y2="978.9" stroke="#5a5a5a" stroke-width="1.1"/>
<line x1="389.98" x2="389.98" y1="571.9" y2="574.9" stroke="#5a5a5a" stroke-width="1.1"/>
<line x1="400.92" x2="400.92" y1="981.9" y2="978.9" stroke="#5a5a5a" stroke-width="1.1"/>
<line x1="400.92" x2="400.92" y1="571.9" y2="574.9" stroke="#5a5a5a" stroke-width="1.1"/>
<line x1="410.70" x2="410.70" y1="981.9" y2="976.4" stroke="#5a5a5a" stroke-width="1.1"/>
<line x1="410.70" x2="410.70" y1="571.9" y2="577.4" stroke="#5a5a5a" stroke-width="1.1"/>
<text x="394.23" y="1012.50" style="font-family:'Liberation Sans',sans-serif;font-size:17.6px" fill="#262626" textLength="19.13" lengthAdjust="spacingAndGlyphs">10</text>
<text x="415.30" y="1003.80" style="font-family:'Liberation Sans',sans-serif;font-size:13.5px" fill="#262626">-3</text>
<line x1="475.06" x2="475.06" y1="981.9" y2="978.9" stroke="#5a5a5a" stroke-width="1.1"/>
<line x1="475.06" x2="475.06" y1="571.9" y2="574.9" stroke="#5a5a5a" stroke-width="1.1"/>
<line x1="512.71" x2="512.71" y1="981.9" y2="978.9" stroke="#5a5a5a" stroke-width="1.1"/>
<line x1="512.71" x2="512.71" y1="571.9" y2="574.9" stroke="#5a5a5a" stroke-width="1.1"/>
<line x1="539.42" x2="539.42" y1="981.9" y2="978.9" stroke="#5a5a5a" stroke-width="1.1"/>
<line x1="539.42" x2="539.42" y1="571.9" y2="574.9" stroke="#5a5a5a" stroke-width="1.1"/>
<line x1="560.14" x2="560.14" y1="981.9" y2="978.9" stroke="#5a5a5a" stroke-width="1.1"/>
<line x1="560.14" x2="560.14" y1="571.9" y2="574.9" stroke="#5a5a5a" stroke-width="1.1"/>
<line x1="577.07" x2="577.07" y1="981.9" y2="978.9" stroke="#5a5a5a" stroke-width="1.1"/>
<line x1="577.07" x2="577.07" y1="571.9" y2="574.9" stroke="#5a5a5a" stroke-width="1.1"/>
<line x1="591.38" x2="591.38" y1="981.9" y2="978.9" stroke="#5a5a5a" stroke-width="1.1"/>
<line x1="591.38" x2="591.38" y1="571.9" y2="574.9" stroke="#5a5a5a" stroke-width="1.1"/>
<line x1="603.78" x2="603.78" y1="981.9" y2="978.9" stroke="#5a5a5a" stroke-width="1.1"/>
<line x1="603.78" x2="603.78" y1="571.9" y2="574.9" stroke="#5a5a5a" stroke-width="1.1"/>
<line x1="614.72" x2="614.72" y1="981.9" y2="978.9" stroke="#5a5a5a" stroke-width="1.1"/>
<line x1="614.72" x2="614.72" y1="571.9" y2="574.9" stroke="#5a5a5a" stroke-width="1.1"/>
<line x1="624.50" x2="624.50" y1="981.9" y2="976.4" stroke="#5a5a5a" stroke-width="1.1"/>
<line x1="624.50" x2="624.50" y1="571.9" y2="577.4" stroke="#5a5a5a" stroke-width="1.1"/>
<text x="608.03" y="1012.50" style="font-family:'Liberation Sans',sans-serif;font-size:17.6px" fill="#262626" textLength="19.13" lengthAdjust="spacingAndGlyphs">10</text>
<text x="629.10" y="1003.80" style="font-family:'Liberation Sans',sans-serif;font-size:13.5px" fill="#262626">-2</text>
<line x1="90.0" x2="624.5" y1="576.41" y2="576.41" stroke="#000" stroke-width="3.2"/>
<polyline points="90.00,576.27 143.45,577.09 196.90,578.05 250.35,580.10 303.80,583.52 357.25,588.71 410.70,599.23 464.15,614.27 517.60,638.18 571.05,670.30 624.50,711.98" fill="none" stroke="#ff0000" stroke-width="3.5" stroke-linejoin="round"/>
<rect x="83.60" y="569.87" width="12.80" height="12.80" fill="none" stroke="#ff0000" stroke-width="3.2"/>
<rect x="137.05" y="570.69" width="12.80" height="12.80" fill="none" stroke="#ff0000" stroke-width="3.2"/>
<rect x="190.50" y="571.65" width="12.80" height="12.80" fill="none" stroke="#ff0000" stroke-width="3.2"/>
<rect x="243.95" y="573.70" width="12.80" height="12.80" fill="none" stroke="#ff0000" stroke-width="3.2"/>
<rect x="297.40" y="577.12" width="12.80" height="12.80" fill="none" stroke="#ff0000" stroke-width="3.2"/>
<rect x="350.85" y="582.31" width="12.80" height="12.80" fill="none" stroke="#ff0000" stroke-width="3.2"/>
<rect x="404.30" y="592.83" width="12.80" height="12.80" fill="none" stroke="#ff0000" stroke-width="3.2"/>
<rect x="457.75" y="607.87" width="12.80" height="12.80" fill="none" stroke="#ff0000" stroke-width="3.2"/>
<rect x="511.20" y="631.78" width="12.80" height="12.80" fill="none" stroke="#ff0000" stroke-width="3.2"/>
<rect x="564.65" y="663.90" width="12.80" height="12.80" fill="none" stroke="#ff0000" stroke-width="3.2"/>
<rect x="618.10" y="705.58" width="12.80" height="12.80" fill="none" stroke="#ff0000" stroke-width="3.2"/>
<polyline points="90.00,578.05 143.45,580.10 196.90,583.52 250.35,588.71 303.80,599.23 357.25,614.27 410.70,638.18 464.15,670.30 517.60,711.98 571.05,760.50 624.50,810.11" fill="none" stroke="#4d9a1a" stroke-width="3.5" stroke-linejoin="round"/>
<path d="M90.00,568.25 L98.60,582.65 L81.40,582.65 Z" fill="none" stroke="#4d9a1a" stroke-width="3.3" stroke-linejoin="miter"/>
<path d="M143.45,570.30 L152.05,584.70 L134.85,584.70 Z" fill="none" stroke="#4d9a1a" stroke-width="3.3" stroke-linejoin="miter"/>
<path d="M196.90,573.72 L205.50,588.12 L188.30,588.12 Z" fill="none" stroke="#4d9a1a" stroke-width="3.3" stroke-linejoin="miter"/>
<path d="M250.35,578.91 L258.95,593.31 L241.75,593.31 Z" fill="none" stroke="#4d9a1a" stroke-width="3.3" stroke-linejoin="miter"/>
<path d="M303.80,589.43 L312.40,603.83 L295.20,603.83 Z" fill="none" stroke="#4d9a1a" stroke-width="3.3" stroke-linejoin="miter"/>
<path d="M357.25,604.47 L365.85,618.87 L348.65,618.87 Z" fill="none" stroke="#4d9a1a" stroke-width="3.3" stroke-linejoin="miter"/>
<path d="M410.70,628.38 L419.30,642.78 L402.10,642.78 Z" fill="none" stroke="#4d9a1a" stroke-width="3.3" stroke-linejoin="miter"/>
<path d="M464.15,660.50 L472.75,674.90 L455.55,674.90 Z" fill="none" stroke="#4d9a1a" stroke-width="3.3" stroke-linejoin="miter"/>
<path d="M517.60,702.18 L526.20,716.58 L509.00,716.58 Z" fill="none" stroke="#4d9a1a" stroke-width="3.3" stroke-linejoin="miter"/>
<path d="M571.05,750.70 L579.65,765.10 L562.45,765.10 Z" fill="none" stroke="#4d9a1a" stroke-width="3.3" stroke-linejoin="miter"/>
<path d="M624.50,800.31 L633.10,814.71 L615.90,814.71 Z" fill="none" stroke="#4d9a1a" stroke-width="3.3" stroke-linejoin="miter"/>
<polyline points="90.00,583.52 143.45,588.71 196.90,599.23 250.35,614.27 303.80,638.18 357.25,670.30 410.70,711.98 464.15,760.50 517.60,810.11 571.05,856.44 624.50,895.53" fill="none" stroke="#0000ff" stroke-width="3.5" stroke-linejoin="round"/>
<path d="M90.00,573.82 L97.00,583.52 L90.00,593.22 L83.00,583.52 Z" fill="none" stroke="#0000ff" stroke-width="3.1" stroke-linejoin="miter"/>
<path d="M143.45,579.01 L150.45,588.71 L143.45,598.41 L136.45,588.71 Z" fill="none" stroke="#0000ff" stroke-width="3.1" stroke-linejoin="miter"/>
<path d="M196.90,589.53 L203.90,599.23 L196.90,608.93 L189.90,599.23 Z" fill="none" stroke="#0000ff" stroke-width="3.1" stroke-linejoin="miter"/>
<path d="M250.35,604.57 L257.35,614.27 L250.35,623.97 L243.35,614.27 Z" fill="none" stroke="#0000ff" stroke-width="3.1" stroke-linejoin="miter"/>
<path d="M303.80,628.48 L310.80,638.18 L303.80,647.88 L296.80,638.18 Z" fill="none" stroke="#0000ff" stroke-width="3.1" stroke-linejoin="miter"/>
<path d="M357.25,660.60 L364.25,670.30 L357.25,680.00 L350.25,670.30 Z" fill="none" stroke="#0000ff" stroke-width="3.1" stroke-linejoin="miter"/>
<path d="M410.70,702.28 L417.70,711.98 L410.70,721.68 L403.70,711.98 Z" fill="none" stroke="#0000ff" stroke-width="3.1" stroke-linejoin="miter"/>
<path d="M464.15,750.80 L471.15,760.50 L464.15,770.20 L457.15,760.50 Z" fill="none" stroke="#0000ff" stroke-width="3.1" stroke-linejoin="miter"/>
<path d="M517.60,800.41 L524.60,810.11 L517.60,819.81 L510.60,810.11 Z" fill="none" stroke="#0000ff" stroke-width="3.1" stroke-linejoin="miter"/>
<path d="M571.05,846.74 L578.05,856.44 L571.05,866.14 L564.05,856.44 Z" fill="none" stroke="#0000ff" stroke-width="3.1" stroke-linejoin="miter"/>
<path d="M624.50,885.83 L631.50,895.53 L624.50,905.23 L617.50,895.53 Z" fill="none" stroke="#0000ff" stroke-width="3.1" stroke-linejoin="miter"/>
<polyline points="90.00,599.23 143.45,614.27 196.90,638.18 250.35,670.30 303.80,711.98 357.25,760.50 410.70,810.11 464.15,856.44 517.60,895.53 571.05,925.32 624.50,945.41" fill="none" stroke="#808080" stroke-width="3.5" stroke-linejoin="round"/>
<circle cx="90.00" cy="599.23" r="6.5" fill="none" stroke="#808080" stroke-width="3.3"/>
<circle cx="143.45" cy="614.27" r="6.5" fill="none" stroke="#808080" stroke-width="3.3"/>
<circle cx="196.90" cy="638.18" r="6.5" fill="none" stroke="#808080" stroke-width="3.3"/>
<circle cx="250.35" cy="670.30" r="6.5" fill="none" stroke="#808080" stroke-width="3.3"/>
<circle cx="303.80" cy="711.98" r="6.5" fill="none" stroke="#808080" stroke-width="3.3"/>
<circle cx="357.25" cy="760.50" r="6.5" fill="none" stroke="#808080" stroke-width="3.3"/>
<circle cx="410.70" cy="810.11" r="6.5" fill="none" stroke="#808080" stroke-width="3.3"/>
<circle cx="464.15" cy="856.44" r="6.5" fill="none" stroke="#808080" stroke-width="3.3"/>
<circle cx="517.60" cy="895.53" r="6.5" fill="none" stroke="#808080" stroke-width="3.3"/>
<circle cx="571.05" cy="925.32" r="6.5" fill="none" stroke="#808080" stroke-width="3.3"/>
<circle cx="624.50" cy="945.41" r="6.5" fill="none" stroke="#808080" stroke-width="3.3"/>
<polyline points="90.00,592.40 143.45,606.07 196.90,623.83 250.35,651.17 303.80,690.39 357.25,735.08 410.70,784.14 464.15,833.75 517.60,876.26 571.05,911.38 624.50,936.80" fill="none" stroke="#ff00ff" stroke-width="3.5" stroke-linejoin="round" stroke-dasharray="9.5 10"/>
<path d="M81.60,592.40 H98.40 M90.00,584.00 V600.80" stroke="#ff00ff" stroke-width="3.2" fill="none"/>
<path d="M135.05,606.07 H151.85 M143.45,597.67 V614.47" stroke="#ff00ff" stroke-width="3.2" fill="none"/>
<path d="M188.50,623.83 H205.30 M196.90,615.43 V632.23" stroke="#ff00ff" stroke-width="3.2" fill="none"/>
<path d="M241.95,651.17 H258.75 M250.35,642.77 V659.57" stroke="#ff00ff" stroke-width="3.2" fill="none"/>
<path d="M295.40,690.39 H312.20 M303.80,681.99 V698.79" stroke="#ff00ff" stroke-width="3.2" fill="none"/>
<path d="M348.85,735.08 H365.65 M357.25,726.68 V743.48" stroke="#ff00ff" stroke-width="3.2" fill="none"/>
<path d="M402.30,784.14 H419.10 M410.70,775.74 V792.54" stroke="#ff00ff" stroke-width="3.2" fill="none"/>
<path d="M455.75,833.75 H472.55 M464.15,825.35 V842.15" stroke="#ff00ff" stroke-width="3.2" fill="none"/>
<path d="M509.20,876.26 H526.00 M517.60,867.86 V884.66" stroke="#ff00ff" stroke-width="3.2" fill="none"/>
<path d="M562.65,911.38 H579.45 M571.05,902.98 V919.78" stroke="#ff00ff" stroke-width="3.2" fill="none"/>
<path d="M616.10,936.80 H632.90 M624.50,928.40 V945.20" stroke="#ff00ff" stroke-width="3.2" fill="none"/>
<path d="M89.75,830.00 V775.20 H300.60 V830.00" fill="#fff" stroke="#333" stroke-width="1.05"/>
<text x="97.85" y="797.60" style="font-family:'Liberation Serif',serif;font-size:18.0px" fill="#000">Marker: Theorem 1</text>
<text x="97.85" y="818.20" style="font-family:'Liberation Serif',serif;font-size:18.0px" fill="#000">Line: Simulation</text>
<rect x="89.60" y="830.00" width="211.00" height="151.90" fill="#fff" stroke="#262626" stroke-width="1.05"/>
<line x1="95.10" x2="143.90" y1="843.60" y2="843.60" stroke="#000" stroke-width="3.5"/>
<text x="147.82" y="848.60" style="font-family:'Liberation Serif',serif;font-size:18.5px" fill="#000" textLength="94.23" lengthAdjust="spacingAndGlyphs">No sharing</text>
<line x1="95.10" x2="143.90" y1="868.40" y2="868.40" stroke="#ff0000" stroke-width="3.5"/>
<rect x="113.10" y="862.00" width="12.80" height="12.80" fill="none" stroke="#ff0000" stroke-width="3.2"/>
<text x="148.52" y="873.40" style="font-family:'Liberation Serif',serif;font-size:19.2px;font-style:italic" fill="#000" textLength="14.48" lengthAdjust="spacingAndGlyphs">R</text>
<text x="163.46" y="867.30" style="font-family:'Liberation Serif',serif;font-size:12.6px" fill="#000" textLength="15.04" lengthAdjust="spacingAndGlyphs">up</text>
<text x="163.46" y="877.80" style="font-family:'Liberation Serif',serif;font-size:12.6px" fill="#000" textLength="15.04" lengthAdjust="spacingAndGlyphs">up</text>
<text x="178.70" y="873.40" style="font-family:'Liberation Serif',serif;font-size:17.5px" fill="#000">,</text>
<text x="187.80" y="873.40" style="font-family:'Liberation Serif',serif;font-size:17.5px;font-style:italic" fill="#000" textLength="11.32" lengthAdjust="spacingAndGlyphs">λ</text>
<text x="198.39" y="877.00" style="font-family:'Liberation Serif',serif;font-size:12.6px" fill="#000" textLength="6.62" lengthAdjust="spacingAndGlyphs">u</text>
<text x="205.25" y="878.00" style="font-family:'Liberation Serif',serif;font-size:10.5px" fill="#000" textLength="4.48" lengthAdjust="spacingAndGlyphs">t</text>
<path d="M217.30,866.10h13.6M217.30,870.30h13.6" stroke="#000" stroke-width="1.15"/>
<text x="236.38" y="873.40" style="font-family:'Liberation Serif',serif;font-size:19.0px" fill="#000" textLength="20.37" lengthAdjust="spacingAndGlyphs">10</text>
<text x="256.60" y="873.40" style="font-family:'Liberation Serif',serif;font-size:17.5px;font-style:italic" fill="#000" textLength="11.32" lengthAdjust="spacingAndGlyphs">λ</text>
<text x="267.20" y="877.00" style="font-family:'Liberation Serif',serif;font-size:12.6px" fill="#000" textLength="8.47" lengthAdjust="spacingAndGlyphs">b</text>
<line x1="95.10" x2="143.90" y1="893.20" y2="893.20" stroke="#4d9a1a" stroke-width="3.5"/>
<path d="M119.50,883.40 L128.10,897.80 L110.90,897.80 Z" fill="none" stroke="#4d9a1a" stroke-width="3.3" stroke-linejoin="miter"/>
<text x="148.52" y="898.20" style="font-family:'Liberation Serif',serif;font-size:19.2px;font-style:italic" fill="#000" textLength="14.48" lengthAdjust="spacingAndGlyphs">R</text>
<text x="163.46" y="892.10" style="font-family:'Liberation Serif',serif;font-size:12.6px" fill="#000" textLength="15.04" lengthAdjust="spacingAndGlyphs">up</text>
<text x="163.46" y="902.60" style="font-family:'Liberation Serif',serif;font-size:12.6px" fill="#000" textLength="15.04" lengthAdjust="spacingAndGlyphs">up</text>
<text x="178.70" y="898.20" style="font-family:'Liberation Serif',serif;font-size:17.5px" fill="#000">,</text>
<text x="187.80" y="898.20" style="font-family:'Liberation Serif',serif;font-size:17.5px;font-style:italic" fill="#000" textLength="11.32" lengthAdjust="spacingAndGlyphs">λ</text>
<text x="198.39" y="901.80" style="font-family:'Liberation Serif',serif;font-size:12.6px" fill="#000" textLength="6.62" lengthAdjust="spacingAndGlyphs">u</text>
<text x="205.25" y="902.80" style="font-family:'Liberation Serif',serif;font-size:10.5px" fill="#000" textLength="4.48" lengthAdjust="spacingAndGlyphs">t</text>
<path d="M217.30,890.90h13.6M217.30,895.10h13.6" stroke="#000" stroke-width="1.15"/>
<text x="236.38" y="898.20" style="font-family:'Liberation Serif',serif;font-size:19.0px" fill="#000" textLength="20.37" lengthAdjust="spacingAndGlyphs">10</text>
<text x="256.05" y="889.70" style="font-family:'Liberation Serif',serif;font-size:12.6px" fill="#000" textLength="17.97" lengthAdjust="spacingAndGlyphs">1.5</text>
<text x="276.90" y="898.20" style="font-family:'Liberation Serif',serif;font-size:17.5px;font-style:italic" fill="#000" textLength="11.32" lengthAdjust="spacingAndGlyphs">λ</text>
<text x="287.50" y="901.80" style="font-family:'Liberation Serif',serif;font-size:12.6px" fill="#000" textLength="8.47" lengthAdjust="spacingAndGlyphs">b</text>
<line x1="95.10" x2="143.90" y1="918.00" y2="918.00" stroke="#0000ff" stroke-width="3.5"/>
<path d="M119.50,908.30 L126.50,918.00 L119.50,927.70 L112.50,918.00 Z" fill="none" stroke="#0000ff" stroke-width="3.1" stroke-linejoin="miter"/>
<text x="148.52" y="923.00" style="font-family:'Liberation Serif',serif;font-size:19.2px;font-style:italic" fill="#000" textLength="14.48" lengthAdjust="spacingAndGlyphs">R</text>
<text x="163.46" y="916.90" style="font-family:'Liberation Serif',serif;font-size:12.6px" fill="#000" textLength="15.04" lengthAdjust="spacingAndGlyphs">up</text>
<text x="163.46" y="927.40" style="font-family:'Liberation Serif',serif;font-size:12.6px" fill="#000" textLength="15.04" lengthAdjust="spacingAndGlyphs">up</text>
<text x="178.70" y="923.00" style="font-family:'Liberation Serif',serif;font-size:17.5px" fill="#000">,</text>
<text x="187.80" y="923.00" style="font-family:'Liberation Serif',serif;font-size:17.5px;font-style:italic" fill="#000" textLength="11.32" lengthAdjust="spacingAndGlyphs">λ</text>
<text x="198.39" y="926.60" style="font-family:'Liberation Serif',serif;font-size:12.6px" fill="#000" textLength="6.62" lengthAdjust="spacingAndGlyphs">u</text>
<text x="205.25" y="927.60" style="font-family:'Liberation Serif',serif;font-size:10.5px" fill="#000" textLength="4.48" lengthAdjust="spacingAndGlyphs">t</text>
<path d="M217.30,915.70h13.6M217.30,919.90h13.6" stroke="#000" stroke-width="1.15"/>
<text x="236.38" y="923.00" style="font-family:'Liberation Serif',serif;font-size:19.0px" fill="#000" textLength="20.37" lengthAdjust="spacingAndGlyphs">10</text>
<text x="256.03" y="914.50" style="font-family:'Liberation Serif',serif;font-size:12.6px" fill="#000" textLength="8.06" lengthAdjust="spacingAndGlyphs">2</text>
<text x="266.20" y="923.00" style="font-family:'Liberation Serif',serif;font-size:17.5px;font-style:italic" fill="#000" textLength="11.32" lengthAdjust="spacingAndGlyphs">λ</text>
<text x="276.80" y="926.60" style="font-family:'Liberation Serif',serif;font-size:12.6px" fill="#000" textLength="8.47" lengthAdjust="spacingAndGlyphs">b</text>
<line x1="95.10" x2="143.90" y1="942.80" y2="942.80" stroke="#808080" stroke-width="3.5"/>
<circle cx="119.50" cy="942.80" r="6.5" fill="none" stroke="#808080" stroke-width="3.3"/>
<text x="148.52" y="947.80" style="font-family:'Liberation Serif',serif;font-size:19.2px;font-style:italic" fill="#000" textLength="14.48" lengthAdjust="spacingAndGlyphs">R</text>
<text x="163.46" y="941.70" style="font-family:'Liberation Serif',serif;font-size:12.6px" fill="#000" textLength="15.04" lengthAdjust="spacingAndGlyphs">up</text>
<text x="163.46" y="952.20" style="font-family:'Liberation Serif',serif;font-size:12.6px" fill="#000" textLength="15.04" lengthAdjust="spacingAndGlyphs">up</text>
<text x="178.70" y="947.80" style="font-family:'Liberation Serif',serif;font-size:17.5px" fill="#000">,</text>
<text x="187.80" y="947.80" style="font-family:'Liberation Serif',serif;font-size:17.5px;font-style:italic" fill="#000" textLength="11.32" lengthAdjust="spacingAndGlyphs">λ</text>
<text x="198.39" y="951.40" style="font-family:'Liberation Serif',serif;font-size:12.6px" fill="#000" textLength="6.62" lengthAdjust="spacingAndGlyphs">u</text>
<text x="205.25" y="952.40" style="font-family:'Liberation Serif',serif;font-size:10.5px" fill="#000" textLength="4.48" lengthAdjust="spacingAndGlyphs">t</text>
<path d="M217.30,940.50h13.6M217.30,944.70h13.6" stroke="#000" stroke-width="1.15"/>
<text x="236.38" y="947.80" style="font-family:'Liberation Serif',serif;font-size:19.0px" fill="#000" textLength="20.37" lengthAdjust="spacingAndGlyphs">10</text>
<text x="256.64" y="939.30" style="font-family:'Liberation Serif',serif;font-size:12.6px" fill="#000" textLength="17.36" lengthAdjust="spacingAndGlyphs">2.5</text>
<text x="276.90" y="947.80" style="font-family:'Liberation Serif',serif;font-size:17.5px;font-style:italic" fill="#000" textLength="11.32" lengthAdjust="spacingAndGlyphs">λ</text>
<text x="287.50" y="951.40" style="font-family:'Liberation Serif',serif;font-size:12.6px" fill="#000" textLength="8.47" lengthAdjust="spacingAndGlyphs">b</text>
<line x1="95.10" x2="143.90" y1="967.60" y2="967.60" stroke="#ff00ff" stroke-width="3.5" stroke-dasharray="9.5 10"/>
<path d="M111.10,967.60 H127.90 M119.50,959.20 V976.00" stroke="#ff00ff" stroke-width="3.2" fill="none"/>
<text x="148.52" y="972.60" style="font-family:'Liberation Serif',serif;font-size:19.2px;font-style:italic" fill="#000" textLength="14.48" lengthAdjust="spacingAndGlyphs">R</text>
<text x="163.10" y="966.50" style="font-family:'Liberation Serif',serif;font-size:12.6px" fill="#000" textLength="15.04" lengthAdjust="spacingAndGlyphs">dn</text>
<text x="163.46" y="977.00" style="font-family:'Liberation Serif',serif;font-size:12.6px" fill="#000" textLength="15.04" lengthAdjust="spacingAndGlyphs">up</text>
<text transform="translate(42.2,232.90) rotate(-90)" text-anchor="middle" style="font-family:'Liberation Serif',serif;font-size:25px" fill="#262626" textLength="463.6" lengthAdjust="spacingAndGlyphs">Ergodic spectral efficiency [Bits/Sec/Hz]</text>
<text x="267.81" y="494.20" style="font-family:'Liberation Serif',serif;font-size:25px" fill="#262626" textLength="140.12" lengthAdjust="spacingAndGlyphs">BS density (</text>
<text x="412.47" y="494.20" style="font-family:'Liberation Serif',serif;font-size:24px;font-style:italic" fill="#262626" textLength="13.29" lengthAdjust="spacingAndGlyphs">λ</text>
<text x="425.20" y="496.80" style="font-family:'Liberation Serif',serif;font-size:17px" fill="#262626" textLength="11.84" lengthAdjust="spacingAndGlyphs">b</text>
<text x="437.62" y="494.20" style="font-family:'Liberation Serif',serif;font-size:25px" fill="#262626" textLength="7.02" lengthAdjust="spacingAndGlyphs">)</text>
<text x="333.46" y="529.80" style="font-family:'Liberation Serif',serif;font-size:20px" fill="#000" textLength="23.07" lengthAdjust="spacingAndGlyphs">(a)</text>
<text transform="translate(42.2,779.80) rotate(-90)" text-anchor="middle" style="font-family:'Liberation Serif',serif;font-size:25px" fill="#262626" textLength="463.6" lengthAdjust="spacingAndGlyphs">Ergodic spectral efficiency [Bits/Sec/Hz]</text>
<text x="267.81" y="1041.10" style="font-family:'Liberation Serif',serif;font-size:25px" fill="#262626" textLength="140.12" lengthAdjust="spacingAndGlyphs">BS density (</text>
<text x="412.47" y="1041.10" style="font-family:'Liberation Serif',serif;font-size:24px;font-style:italic" fill="#262626" textLength="13.29" lengthAdjust="spacingAndGlyphs">λ</text>
<text x="425.20" y="1043.70" style="font-family:'Liberation Serif',serif;font-size:17px" fill="#262626" textLength="11.84" lengthAdjust="spacingAndGlyphs">b</text>
<text x="437.62" y="1041.10" style="font-family:'Liberation Serif',serif;font-size:25px" fill="#262626" textLength="7.02" lengthAdjust="spacingAndGlyphs">)</text>
<text x="333.52" y="1076.70" style="font-family:'Liberation Serif',serif;font-size:20px" fill="#000" textLength="22.89" lengthAdjust="spacingAndGlyphs">(b)</text>
<text x="0.80" y="1112.6" style="font-family:'Liberation Serif',serif;font-size:19px" fill="#000">Fig.</text>
<text x="42.20" y="1112.6" style="font-family:'Liberation Serif',serif;font-size:19px" fill="#000">2.</text>
<text x="76.30" y="1112.6" style="font-family:'Liberation Serif',serif;font-size:19px" fill="#000">The</text>
<text x="118.40" y="1112.6" style="font-family:'Liberation Serif',serif;font-size:19px" fill="#000">UL</text>
<text x="165.00" y="1112.6" style="font-family:'Liberation Serif',serif;font-size:19px" fill="#000">ergodic</text>
<text x="229.80" y="1112.6" style="font-family:'Liberation Serif',serif;font-size:19px" fill="#000">spectral</text>
<text x="306.40" y="1112.6" style="font-family:'Liberation Serif',serif;font-size:19px" fill="#000">efficiencies</text>
<text x="402.40" y="1112.6" style="font-family:'Liberation Serif',serif;font-size:19px" fill="#000">for</text>
<text x="436.20" y="1112.6" style="font-family:'Liberation Serif',serif;font-size:19px" fill="#000">the</text>
<text x="472.70" y="1112.6" style="font-family:'Liberation Serif',serif;font-size:19px" fill="#000">typical</text>
<text x="538.00" y="1112.6" style="font-family:'Liberation Serif',serif;font-size:19px" fill="#000">satellite</text>
<text x="610.30" y="1112.6" style="font-family:'Liberation Serif',serif;font-size:19px" fill="#000">with</text>
</svg>
</body></html>
